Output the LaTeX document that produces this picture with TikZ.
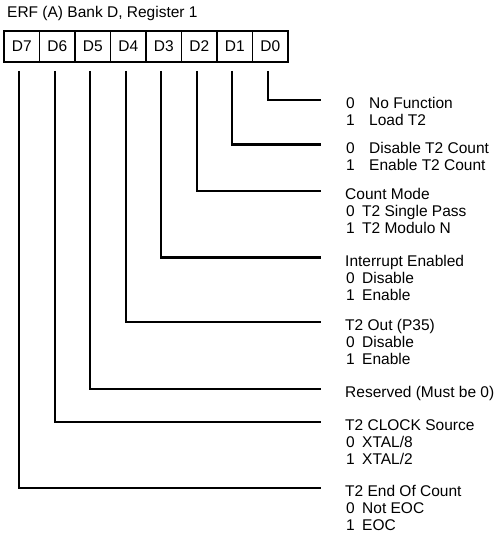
\documentclass[tikz,border=0pt]{standalone}
\usepackage{fontspec}
\setmainfont{Liberation Sans}
\begin{document}
\begin{tikzpicture}[x=1pt,y=-1pt,
  bitbox/.style={draw, line width=1.8pt, minimum width=35.5pt, minimum height=31pt, inner sep=0pt, font=\fontsize{15.5}{17}\selectfont},
  lbl/.style={anchor=base west, inner sep=0pt, font=\fontsize{15.5}{17}\selectfont},
  wire/.style={line width=2.2pt, shorten <=8pt}]
\useasboundingbox (0,0) rectangle (496,535);
\node[lbl] (title) at (7,17.3) {ERF (A) Bank D, Register 1};
% bit boxes
\node[bitbox] (b7) at (21.75,46.5) {D7};
\node[bitbox] (b6) at (57.25,46.5) {D6};
\node[bitbox] (b5) at (92.75,46.5) {D5};
\node[bitbox] (b4) at (128.25,46.5) {D4};
\node[bitbox] (b3) at (163.75,46.5) {D3};
\node[bitbox] (b2) at (199.25,46.5) {D2};
\node[bitbox] (b1) at (234.75,46.5) {D1};
\node[bitbox] (b0) at (270.25,46.5) {D0};
% wire ends
\coordinate (e0) at (321,100);
\coordinate (e1) at (321,144.5);
\coordinate (e2) at (321,191);
\coordinate (e3) at (321,257.5);
\coordinate (e4) at (321,322);
\coordinate (e5) at (321,389);
\coordinate (e6) at (321,422);
\coordinate (e7) at (321,488);
\foreach \i in {0,...,7}{
  \draw[wire] ([xshift=-2.4pt]b\i.south) |- (e\i);
}
% D0
\node[lbl] (d0a) at (346,108.8) {0};
\node[lbl] (d0b) at (369,108.8) {No Function};
\node[lbl] (d0c) at (346,125.8) {1};
\node[lbl] (d0d) at (369,125.8) {Load T2};
% D1
\node[lbl] (d1a) at (346,153.3) {0};
\node[lbl] (d1b) at (369,153.3) {Disable T2 Count};
\node[lbl] (d1c) at (346,170.3) {1};
\node[lbl] (d1d) at (369,170.3) {Enable T2 Count};
% D2
\node[lbl] (d2h) at (345,199.8) {Count Mode};
\node[lbl] (d2a) at (346,216.8) {0};
\node[lbl] (d2b) at (362,216.8) {T2 Single Pass};
\node[lbl] (d2c) at (346,233.8) {1};
\node[lbl] (d2d) at (362,233.8) {T2 Modulo N};
% D3
\node[lbl] (d3h) at (345,266.3) {Interrupt Enabled};
\node[lbl] (d3a) at (346,283.3) {0};
\node[lbl] (d3b) at (362,283.3) {Disable};
\node[lbl] (d3c) at (346,300.3) {1};
\node[lbl] (d3d) at (362,300.3) {Enable};
% D4
\node[lbl] (d4h) at (345,330.8) {T2 Out (P35)};
\node[lbl] (d4a) at (346,347.8) {0};
\node[lbl] (d4b) at (362,347.8) {Disable};
\node[lbl] (d4c) at (346,364.8) {1};
\node[lbl] (d4d) at (362,364.8) {Enable};
% D5
\node[lbl] (d5h) at (345,397.3) {Reserved (Must be 0)};
% D6
\node[lbl] (d6h) at (345,430.8) {T2 CLOCK Source};
\node[lbl] (d6a) at (346,447.8) {0};
\node[lbl] (d6b) at (362,447.8) {XTAL/8};
\node[lbl] (d6c) at (346,464.8) {1};
\node[lbl] (d6d) at (362,464.8) {XTAL/2};
% D7
\node[lbl] (d7h) at (345,496.8) {T2 End Of Count};
\node[lbl] (d7a) at (346,513.8) {0};
\node[lbl] (d7b) at (362,513.8) {Not EOC};
\node[lbl] (d7c) at (346,530.8) {1};
\node[lbl] (d7d) at (362,530.8) {EOC};
\end{tikzpicture}
\end{document}
